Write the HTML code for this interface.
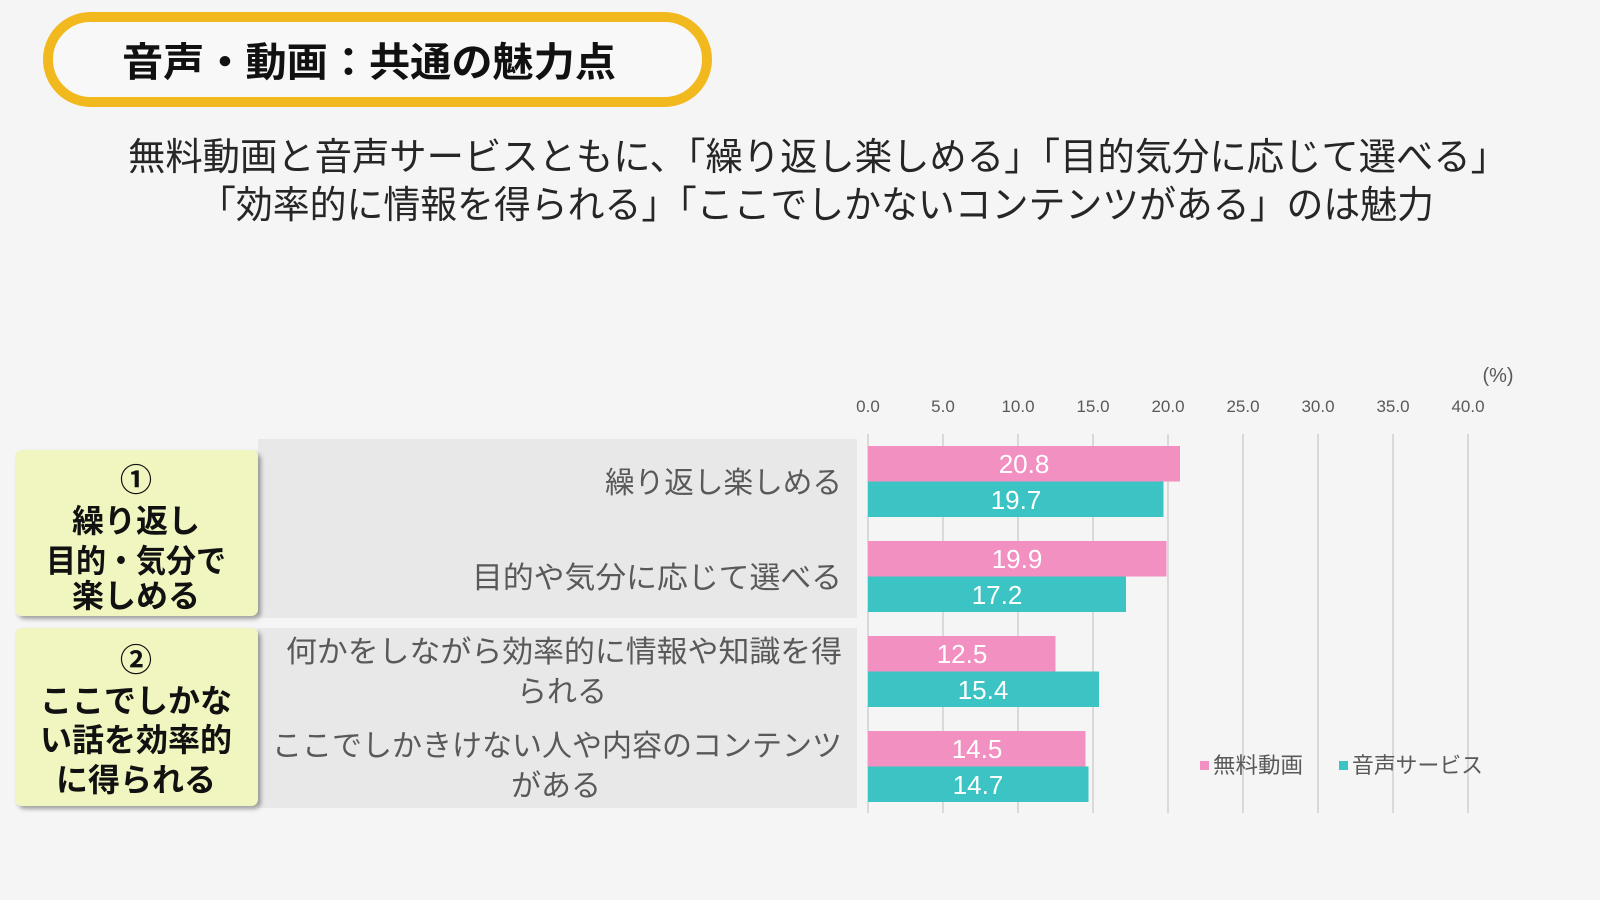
<!DOCTYPE html>
<html>
<head>
<meta charset="utf-8">
<style>
html,body{margin:0;padding:0;background:#f5f5f5;}
svg{display:block;}
text{font-family:"Liberation Sans","Noto Sans CJK JP",sans-serif;}
</style>
</head>
<body>
<svg width="1600" height="900" viewBox="0 0 1600 900" xmlns="http://www.w3.org/2000/svg">
<defs>
<filter id="sh" x="-10%" y="-10%" width="130%" height="130%">
<feDropShadow dx="3" dy="3" stdDeviation="2" flood-color="#000" flood-opacity="0.35"/>
</filter>
</defs>
<rect x="0" y="0" width="1600" height="900" fill="#f5f5f5"/>

<!-- Title pill -->
<rect x="48" y="17" width="659" height="85" rx="42.5" ry="42.5" fill="#f8f8f8" stroke="#f2b91f" stroke-width="10"/>
<text x="122" y="76" font-size="40" font-weight="bold" fill="#111" textLength="494" lengthAdjust="spacingAndGlyphs">音声・動画：共通の魅力点</text>

<!-- Subtitle -->
<text x="128" y="170" font-size="38" fill="#262626" textLength="1380" lengthAdjust="spacingAndGlyphs">無料動画と音声サービスともに、「繰り返し楽しめる」「目的気分に応じて選べる」</text>
<text x="199" y="218" font-size="38" fill="#262626" textLength="1235" lengthAdjust="spacingAndGlyphs">「効率的に情報を得られる」「ここでしかないコンテンツがある」のは魅力</text>

<!-- Gray category panels -->
<rect x="258" y="439" width="599" height="179" fill="#e8e8e8"/>
<rect x="258" y="628" width="599" height="180" fill="#e8e8e8"/>

<!-- Yellow boxes -->
<rect x="15" y="450" width="243" height="166" rx="7" fill="#f1f5bf" filter="url(#sh)"/>
<rect x="15" y="628" width="243" height="178" rx="7" fill="#f1f5bf" filter="url(#sh)"/>

<g font-size="32" font-weight="bold" fill="#111" text-anchor="middle">
<text x="136" y="491">①</text>
<text x="136" y="532">繰り返し</text>
<text x="136" y="572" textLength="180" lengthAdjust="spacingAndGlyphs">目的・気分で</text>
<text x="136" y="607">楽しめる</text>
<text x="136" y="671">②</text>
<text x="136" y="712">ここでしかな</text>
<text x="136" y="751">い話を効率的</text>
<text x="136" y="791">に得られる</text>
</g>

<!-- Category labels -->
<g font-size="30" fill="#595959">
<text x="842" y="493" text-anchor="end" textLength="237" lengthAdjust="spacingAndGlyphs">繰り返し楽しめる</text>
<text x="842" y="588" text-anchor="end" textLength="370" lengthAdjust="spacingAndGlyphs">目的や気分に応じて選べる</text>
<text x="842" y="662" text-anchor="end" textLength="556" lengthAdjust="spacingAndGlyphs">何かをしながら効率的に情報や知識を得</text>
<text x="562" y="702" text-anchor="middle">られる</text>
<text x="842" y="756" text-anchor="end" textLength="570" lengthAdjust="spacingAndGlyphs">ここでしかきけない人や内容のコンテンツ</text>
<text x="556" y="796" text-anchor="middle">がある</text>
</g>

<!-- Gridlines -->
<g stroke="#d0d0d0" stroke-width="1.5">
<line x1="868" y1="434" x2="868" y2="813"/>
<line x1="943" y1="434" x2="943" y2="813"/>
<line x1="1018" y1="434" x2="1018" y2="813"/>
<line x1="1093" y1="434" x2="1093" y2="813"/>
<line x1="1168" y1="434" x2="1168" y2="813"/>
<line x1="1243" y1="434" x2="1243" y2="813"/>
<line x1="1318" y1="434" x2="1318" y2="813"/>
<line x1="1393" y1="434" x2="1393" y2="813"/>
<line x1="1468" y1="434" x2="1468" y2="813"/>
</g>

<!-- Axis labels -->
<g font-size="17" fill="#595959" text-anchor="middle">
<text x="868" y="412">0.0</text>
<text x="943" y="412">5.0</text>
<text x="1018" y="412">10.0</text>
<text x="1093" y="412">15.0</text>
<text x="1168" y="412">20.0</text>
<text x="1243" y="412">25.0</text>
<text x="1318" y="412">30.0</text>
<text x="1393" y="412">35.0</text>
<text x="1468" y="412">40.0</text>
<text x="1498" y="382" font-size="20">(%)</text>
</g>

<!-- Bars -->
<g>
<rect x="868" y="446" width="312" height="35.5" fill="#f290c1"/>
<rect x="868" y="481.5" width="295.5" height="35.5" fill="#3cc3c3"/>
<rect x="868" y="541" width="298.5" height="35.5" fill="#f290c1"/>
<rect x="868" y="576.5" width="258" height="35.5" fill="#3cc3c3"/>
<rect x="868" y="636" width="187.5" height="35.5" fill="#f290c1"/>
<rect x="868" y="671.5" width="231" height="35.5" fill="#3cc3c3"/>
<rect x="868" y="731" width="217.5" height="35.5" fill="#f290c1"/>
<rect x="868" y="766.5" width="220.5" height="35.5" fill="#3cc3c3"/>
</g>

<!-- Data labels -->
<g font-size="26" fill="#ffffff" text-anchor="middle">
<text x="1024" y="473">20.8</text>
<text x="1016" y="509">19.7</text>
<text x="1017" y="568">19.9</text>
<text x="997" y="604">17.2</text>
<text x="962" y="663">12.5</text>
<text x="983" y="699">15.4</text>
<text x="977" y="758">14.5</text>
<text x="978" y="794">14.7</text>
</g>

<!-- Legend -->
<rect x="1200" y="761" width="9" height="9" fill="#f290c1"/>
<text x="1213" y="773" font-size="22" fill="#595959" textLength="90" lengthAdjust="spacingAndGlyphs">無料動画</text>
<rect x="1339" y="761" width="9" height="9" fill="#3cc3c3"/>
<text x="1352" y="773" font-size="22" fill="#595959" textLength="131" lengthAdjust="spacingAndGlyphs">音声サービス</text>
</svg>
</body>
</html>
